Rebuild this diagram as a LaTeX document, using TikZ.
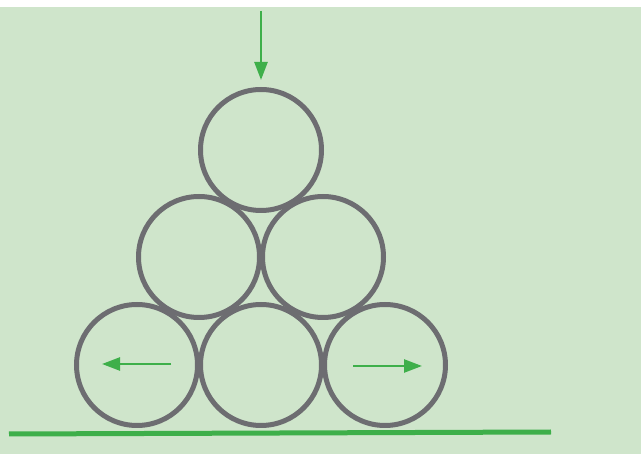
\documentclass[tikz,border=0pt]{standalone}
\usepackage{tikz}
\usetikzlibrary{positioning, arrows.meta}
\usepackage{xcolor}
\definecolor{bgGreen}{HTML}{CFE5CB}
\definecolor{rollGray}{HTML}{6D6D71}
\definecolor{forceGreen}{HTML}{3EAF4A}

\begin{document}
\begin{tikzpicture}[x=1pt, y=-1pt,
  roller/.style={draw=rollGray, circle, line width=5pt, minimum size=121pt, inner sep=0pt},
  force/.style={draw=forceGreen, line width=2.5pt, -{Triangle[width=13pt, length=18pt]}}]
\useasboundingbox (0,0) rectangle (641,454);
\fill[bgGreen] (0,7) rectangle (641,454);

\node[roller] (top) at (261, 150) {};
\node[roller] (midL) at (199, 257) {};
\node[roller] (midR) at (323, 257) {};
\node[roller] (botL) at (137, 365) {};
\node[roller] (botM) at (261, 365) {};
\node[roller] (botR) at (385, 365) {};

\coordinate (load) at (261, 11);
\coordinate (loadTip) at (261, 80);
\coordinate (pushL) at (171, 364);
\coordinate (pushLTip) at (102, 364);
\coordinate (pushR) at (353, 366);
\coordinate (pushRTip) at (422, 366);
\coordinate (groundL) at (9, 434);
\coordinate (groundR) at (551, 432);

\draw[force] (load) -- (loadTip);
\draw[force] (pushL) -- (pushLTip);
\draw[force] (pushR) -- (pushRTip);
\draw[forceGreen, line width=5pt] (groundL) -- (groundR);
\end{tikzpicture}
\end{document}
